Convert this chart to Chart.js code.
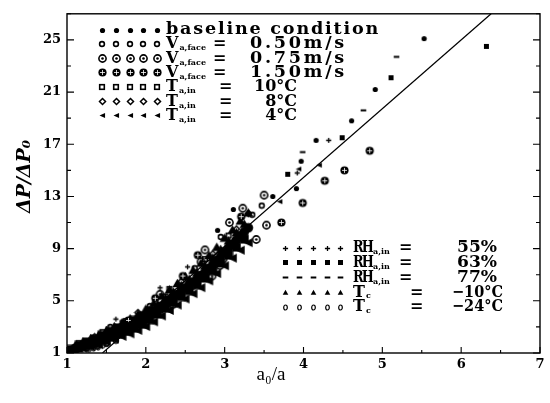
<!DOCTYPE html>
<html>
<head>
<meta charset="utf-8">
<script src="https://cdn.jsdelivr.net/npm/chart.js@4.4.1/dist/chart.umd.min.js"></script>
<style>
  html, body { margin: 0; padding: 0; background: #fff; }
  #wrap { width: 550px; height: 403px; }
</style>
</head>
<body>
<div id="wrap"><canvas id="chart"></canvas></div>
<script>
// axis ranges and labelled ticks
const xTickLabels = [1, 2, 3, 4, 5, 6, 7];
const yTickLabels = [1, 5, 9, 13, 17, 21, 25];

// straight fit through the data
const fitLineX = [1.45, 6.38];
const fitLineY = [1.0, 27.0];

// measured points, [a0/a, dP/dP0]; *Band = the crowded strip, *Spread = the rest
const baselineBand = [
    [1.00, 1.05], [1.10, 1.35], [1.20, 1.6], [1.30, 1.8], [1.40, 2.0], [1.50, 2.3],
    [1.60, 2.55], [1.70, 2.8], [1.80, 3.05], [1.90, 3.35], [2.00, 3.7], [2.10, 4.1],
    [2.20, 4.6], [2.30, 5.05], [2.40, 5.5], [2.50, 6.0], [2.60, 6.45], [2.70, 6.95],
    [2.80, 7.5], [2.90, 8.1], [3.00, 8.75], [3.10, 9.35], [3.20, 10.0], [3.30, 10.6],
    [1.05, 1.2], [1.15, 1.48], [1.25, 1.7], [1.35, 1.9], [1.45, 2.15], [1.55, 2.43],
    [1.65, 2.68], [1.75, 2.93], [1.85, 3.2], [1.95, 3.52], [2.05, 3.9], [2.15, 4.35],
    [2.25, 4.82], [2.35, 5.27], [2.45, 5.75], [2.55, 6.22], [2.65, 6.7], [2.75, 7.22],
    [2.85, 7.8], [2.95, 8.42], [3.05, 9.05], [3.15, 9.67], [3.25, 10.3],
];
const baselineSpread = [
    [2.91, 10.4], [3.11, 12.0], [3.61, 13.0], [3.91, 13.6],
    [3.97, 15.7], [4.16, 17.3], [4.61, 18.8], [4.91, 21.2], [5.53, 25.1],
];
const vFace050 = [
    [1.25, 1.35], [1.38, 1.5], [1.50, 1.7], [1.62, 1.95], [1.55, 3.0], [2.05, 4.6],
    [2.62, 7.5], [2.95, 9.9], [3.35, 11.6], [3.47, 12.3],
];
const vFace075 = [
    [1.96, 3.3], [2.18, 5.5], [2.34, 4.7], [2.60, 6.2], [2.70, 8.0], [2.75, 8.9],
    [2.84, 6.9], [2.94, 7.7], [2.98, 8.2], [3.06, 11.0], [3.23, 12.1], [3.40, 9.7],
    [3.50, 13.1], [3.53, 10.8],
];
const vFace150 = [
    [1.78, 3.5], [2.12, 5.2], [2.47, 6.9], [2.66, 8.5], [3.21, 11.45], [3.72, 11.0],
    [3.99, 12.5], [4.27, 14.2], [4.52, 15.0], [4.84, 16.5],
];
const tIn10 = [
    [1.15, 1.75], [1.45, 2.6], [1.75, 3.45], [2.30, 5.9], [2.75, 8.2], [3.05, 10.0],
];
const tIn8 = [
    [1.35, 2.25], [1.90, 4.1], [2.45, 6.5], [2.85, 8.6], [3.15, 10.5], [3.30, 11.7],
];
const tIn4Band = [
    [1.00, 1.0], [1.10, 1.19], [1.20, 1.36], [1.30, 1.49], [1.40, 1.64], [1.50, 1.88],
    [1.60, 2.07], [1.70, 2.27], [1.80, 2.47], [1.90, 2.73], [2.00, 3.03], [2.10, 3.39],
    [2.20, 3.84], [2.30, 4.26], [2.40, 4.67], [2.50, 5.14], [2.60, 5.55], [2.70, 6.01],
    [2.80, 6.53], [2.90, 7.09], [3.00, 7.69], [3.10, 8.27], [3.20, 8.88], [3.30, 9.46],
];
const tIn4Spread = [
    [3.70, 12.6], [3.94, 15.1], [4.20, 15.4],
];
const rh55 = [
    [1.62, 3.6], [2.18, 6.0], [2.53, 7.6], [3.92, 14.8], [4.32, 17.3],
];
const rh63Band = [
    [1.05, 1.13], [1.15, 1.38], [1.25, 1.57], [1.35, 1.73], [1.45, 1.95], [1.55, 2.2],
    [1.65, 2.43], [1.75, 2.65], [1.85, 2.9], [1.95, 3.2], [2.05, 3.55], [2.15, 3.98],
    [2.25, 4.43], [2.35, 4.86], [2.45, 5.33], [2.55, 5.78], [2.65, 6.24], [2.75, 6.74],
    [2.85, 7.3], [2.95, 7.9], [3.05, 8.51], [3.15, 9.12], [3.25, 9.73],
    [1.05, 1.27], [1.15, 1.58], [1.25, 1.84], [1.35, 2.07], [1.45, 2.35], [1.55, 2.66],
    [1.65, 2.93], [1.75, 3.2], [1.85, 3.5], [1.95, 3.85], [2.05, 4.25],
];
const rh63Spread = [
    [3.80, 14.7], [4.49, 17.5], [5.11, 22.1], [6.32, 24.5],
];
const rh77 = [
    [1.70, 3.45], [2.25, 5.5], [2.60, 7.2], [3.99, 16.4], [4.76, 19.6], [5.18, 23.7],
];
const tc10Band = [
    [1.00, 1.15], [1.10, 1.51], [1.20, 1.84], [1.30, 2.11], [1.40, 2.36], [1.50, 2.72],
    [1.60, 3.03], [1.70, 3.33], [1.80, 3.63], [1.90, 3.97], [2.00, 4.37], [2.10, 4.81],
    [2.20, 5.36], [2.30, 5.84], [2.40, 6.33], [2.50, 6.86], [2.60, 7.35], [2.70, 7.89],
    [2.80, 8.47], [2.90, 9.11], [3.00, 9.81], [3.10, 10.43], [3.20, 11.12], [3.30, 11.74],
    [2.15, 4.72], [2.25, 5.2], [2.35, 5.68], [2.45, 6.17], [2.55, 6.66], [2.65, 7.16],
    [2.75, 7.7], [2.85, 8.3], [2.95, 8.94], [3.05, 9.59], [3.15, 10.22], [3.25, 10.87],
];
const tc24 = [
    [1.28, 1.25], [1.34, 1.35], [1.40, 1.45], [1.46, 1.6], [1.52, 1.75], [2.20, 3.95],
];

// legend wording, one entry per series
const topLegend = [
    { main: "baseline condition" },
    { main: "V", sub: "a,face", value: "0.50m/s" },
    { main: "V", sub: "a,face", value: "0.75m/s" },
    { main: "V", sub: "a,face", value: "1.50m/s" },
    { main: "T", sub: "a,in", value: "10°C" },
    { main: "T", sub: "a,in", value: "8°C" },
    { main: "T", sub: "a,in", value: "4°C" },
];
const bottomLegend = [
    { main: "RH", sub: "a,in", value: "55%" },
    { main: "RH", sub: "a,in", value: "63%" },
    { main: "RH", sub: "a,in", value: "77%" },
    { main: "T", sub: "c", value: "−10°C" },
    { main: "T", sub: "c", value: "−24°C" },
];

// small bitmap markers used as point styles
function marker(size, draw) {
    const c = document.createElement("canvas");
    c.width = c.height = size;
    const g = c.getContext("2d");
    g.translate(size / 2, size / 2);
    g.fillStyle = "#000";
    g.strokeStyle = "#000";
    draw(g);
    return c;
}
const circle = (g, r) => { g.beginPath(); g.arc(0, 0, r, 0, Math.PI * 2); };
const wedge = (w, h) => (g) => {
    g.beginPath(); g.moveTo(-w, 0); g.lineTo(w * 0.85, -h); g.lineTo(w * 0.85, h);
    g.closePath(); g.fill();
};
const tri = (w, h) => (g) => {
    g.beginPath(); g.moveTo(0, -h); g.lineTo(w, h * 0.8); g.lineTo(-w, h * 0.8);
    g.closePath(); g.fill();
};

const MARK = {
    dot: marker(7, (g) => { circle(g, 2.6); g.fill(); }),
    ring: marker(8, (g) => { g.lineWidth = 1.6; circle(g, 2.4); g.stroke(); }),
    dotRing: marker(11, (g) => {
        g.lineWidth = 1.6; circle(g, 3.6); g.stroke();
        circle(g, 1.3); g.fill();
    }),
    bigDisc: marker(11, (g) => {
        circle(g, 4.1); g.fill();
        g.strokeStyle = "#fff"; g.lineWidth = 0.8;
        g.beginPath(); g.moveTo(-2.5, 0); g.lineTo(2.5, 0);
        g.moveTo(0, -2.5); g.lineTo(0, 2.5); g.stroke();
    }),
    square: marker(8, (g) => { g.lineWidth = 1.6; g.strokeRect(-2.3, -2.3, 4.6, 4.6); }),
    diamond: marker(9, (g) => {
        g.lineWidth = 1.5; g.beginPath();
        g.moveTo(0, -3); g.lineTo(3, 0); g.lineTo(0, 3); g.lineTo(-3, 0);
        g.closePath(); g.stroke();
    }),
    wedge: marker(7, wedge(3, 2.4)),
    plus: marker(7, (g) => {
        g.lineWidth = 1.3; g.beginPath();
        g.moveTo(-2.6, 0); g.lineTo(2.6, 0); g.moveTo(0, -2.6); g.lineTo(0, 2.6);
        g.stroke();
    }),
    block: marker(7, (g) => { g.fillRect(-2.5, -2.5, 5, 5); }),
    dash: marker(7, (g) => { g.fillRect(-2.8, -1, 5.6, 2); }),
    tri: marker(7, tri(2.8, 2.8)),
    oval: marker(7, (g) => {
        g.lineWidth = 1.2; g.beginPath();
        g.ellipse(0, 0, 1.8, 2.5, 0, 0, Math.PI * 2); g.stroke();
    }),
};

// heavier versions where the points pile on top of each other
const CROWD = {
    dot: marker(11, (g) => { circle(g, 4.8); g.fill(); }),
    wedge: marker(11, wedge(5, 4.6)),
    block: marker(10, (g) => { g.fillRect(-4.5, -4.5, 9, 9); }),
    tri: marker(11, tri(5, 4.8)),
};

const toPts = (arr) => arr.map(([x, y]) => ({ x, y }));

const series = [
    { band: baselineBand, data: baselineSpread, mark: MARK.dot, crowd: CROWD.dot },
    { data: vFace050, mark: MARK.ring },
    { data: vFace075, mark: MARK.dotRing },
    { data: vFace150, mark: MARK.bigDisc },
    { data: tIn10, mark: MARK.square },
    { data: tIn8, mark: MARK.diamond },
    { band: tIn4Band, data: tIn4Spread, mark: MARK.wedge, crowd: CROWD.wedge },
    { data: rh55, mark: MARK.plus },
    { band: rh63Band, data: rh63Spread, mark: MARK.block, crowd: CROWD.block },
    { data: rh77, mark: MARK.dash },
    { band: tc10Band, data: [], mark: MARK.tri, crowd: CROWD.tri },
    { data: tc24, mark: MARK.oval },
];

const datasets = series.map((s) => {
    const band = s.band || [];
    return {
        data: toPts(band.concat(s.data)),
        pointStyle: (c) => (c.dataIndex < band.length ? s.crowd : s.mark),
        pointRadius: 3,
        pointHoverRadius: 3,
        showLine: false,
    };
});
datasets.push({
    type: "line",
    data: fitLineX.map((x, i) => ({ x, y: fitLineY[i] })),
    borderColor: "#000",
    borderWidth: 1.2,
    pointRadius: 0,
    fill: false,
    tension: 0,
});

// text spread to a given width (letter spacing plus a little stretch)
function drawFit(ctx, text, x, y, width, align = "left") {
    ctx.save();
    ctx.letterSpacing = "0px";
    const w = ctx.measureText(text).width;
    let sx = 1, sp = 0;
    if (width) {
        sx = Math.min(Math.max(width / w, 0.8), 1.1);
        sp = (width / sx - w) / text.length;
    }
    ctx.letterSpacing = sp + "px";
    ctx.textAlign = align;
    ctx.translate(x, y);
    ctx.scale(sx, 1);
    ctx.fillText(text, align === "right" ? sp : 0, 0);
    ctx.restore();
}

const SERIF = '"DejaVu Serif", serif';
const LEGEND_FONT = "bold 16px " + SERIF;

const legendPlugin = {
    id: "rowLegend",
    afterDatasetsDraw(chart) {
        const ctx = chart.ctx;
        ctx.save();
        ctx.fillStyle = "#000";
        ctx.textBaseline = "middle";

        const drawRows = (rows, marks, cfg) => {
            rows.forEach((row, i) => {
                const y = cfg.y0 + i * cfg.dy;
                const m = marks[i];
                cfg.markX.forEach((mx) =>
                    ctx.drawImage(m, Math.round(mx - m.width / 2), Math.round(y - m.height / 2)));
                ctx.font = LEGEND_FONT;
                if (!row.sub) {
                    drawFit(ctx, row.main, cfg.textX, y, 214);
                    return;
                }
                const mainW = row.main.length > 1 ? 19 : 0;
                drawFit(ctx, row.main, cfg.textX, y, mainW);
                ctx.letterSpacing = "0px";
                const mw = mainW || ctx.measureText(row.main).width;
                ctx.font = "bold 8px " + SERIF;
                drawFit(ctx, row.sub, cfg.textX + mw + 1, y + 4, 0);
                ctx.font = LEGEND_FONT;
                drawFit(ctx, "=", cfg.eqX(row), y, 0);
                if (cfg.valueX) drawFit(ctx, row.value, cfg.valueX, y, cfg.valueW);
                else drawFit(ctx, row.value, cfg.valueRight(row), y, cfg.valueW(row), "right");
            });
        };

        const marks = series.map((s) => s.mark);
        const topX = [102, 116, 130, 143, 157];
        drawRows(topLegend.slice(0, 4), marks.slice(0, 4), {
            y0: 30, dy: 14.3, markX: topX, textX: 166,
            eqX: () => 213, valueX: 250, valueW: 97,
        });
        drawRows(topLegend.slice(4), marks.slice(4, 7), {
            y0: 30 + 4 * 14.3, dy: 14.3, markX: topX, textX: 166,
            eqX: () => 219, valueRight: () => 297, valueW: () => 0,
        });
        drawRows(bottomLegend, marks.slice(7), {
            y0: 248, dy: 14.8, markX: [285, 299, 313, 327, 340], textX: 353,
            eqX: (row) => (row.main === "RH" ? 399 : 410),
            valueRight: (row) => (row.main === "RH" ? 497 : 503),
            valueW: (row) => (row.main === "RH" ? 40 : 51),
        });
        ctx.restore();
    },
};

// frame with inward tick marks and the two axis titles
const framePlugin = {
    id: "frame",
    afterDraw(chart) {
        const { ctx, chartArea: a } = chart;
        const xs = chart.scales.x, ys = chart.scales.y;
        ctx.save();
        ctx.strokeStyle = "#000";
        ctx.lineWidth = 1.4;
        ctx.strokeRect(a.left, a.top, a.right - a.left, a.bottom - a.top);
        ctx.lineWidth = 1.1;
        ctx.beginPath();
        xs.ticks.forEach((t) => {
            const px = xs.getPixelForValue(t.value);
            const len = xTickLabels.includes(t.value) ? 6 : 3;
            ctx.moveTo(px, a.bottom); ctx.lineTo(px, a.bottom - len);
        });
        ys.ticks.forEach((t) => {
            const py = ys.getPixelForValue(t.value);
            const len = yTickLabels.includes(t.value) ? 7 : 4;
            ctx.moveTo(a.left, py); ctx.lineTo(a.left + len, py);
            ctx.moveTo(a.right, py); ctx.lineTo(a.right - len, py);
        });
        ctx.stroke();

        ctx.fillStyle = "#000";
        ctx.textBaseline = "middle";
        ctx.textAlign = "center";
        ctx.font = '19px "Liberation Serif", serif';
        ctx.fillText("a₀/a", 271, 375);
        ctx.translate(25, 177);
        ctx.rotate(-Math.PI / 2);
        ctx.font = "italic bold 18px " + SERIF;
        drawFit(ctx, "ΔP/ΔP₀", -36, 0, 73);
        ctx.restore();
    },
};

const tickFont = { family: "DejaVu Serif", size: 13, weight: "bold" };

new Chart(document.getElementById("chart"), {
    type: "scatter",
    data: { datasets },
    options: {
        responsive: true,
        maintainAspectRatio: false,
        animation: false,
        devicePixelRatio: 1,
        layout: { padding: { top: 6, right: 10, left: 0, bottom: 0 } },
        plugins: { legend: { display: false }, tooltip: { enabled: false } },
        scales: {
            x: {
                type: "linear",
                min: 1,
                max: 7,
                grid: { display: false, drawTicks: false },
                border: { display: false },
                ticks: {
                    stepSize: 0.5,
                    autoSkip: false,
                    maxRotation: 0,
                    padding: 4,
                    color: "#000",
                    font: tickFont,
                    callback: (v) => (xTickLabels.includes(v) ? String(v) : ""),
                },
                afterFit: (s) => { s.height = 50; },
            },
            y: {
                type: "linear",
                min: 1,
                max: 27,
                grid: { display: false, drawTicks: false },
                border: { display: false },
                ticks: {
                    stepSize: 2,
                    autoSkip: false,
                    padding: 6,
                    color: "#000",
                    font: tickFont,
                    callback: (v) => (yTickLabels.includes(v) ? String(v) : ""),
                },
                afterFit: (s) => { s.width = 67; },
            },
        },
    },
    plugins: [legendPlugin, framePlugin],
});
</script>
</body>
</html>
